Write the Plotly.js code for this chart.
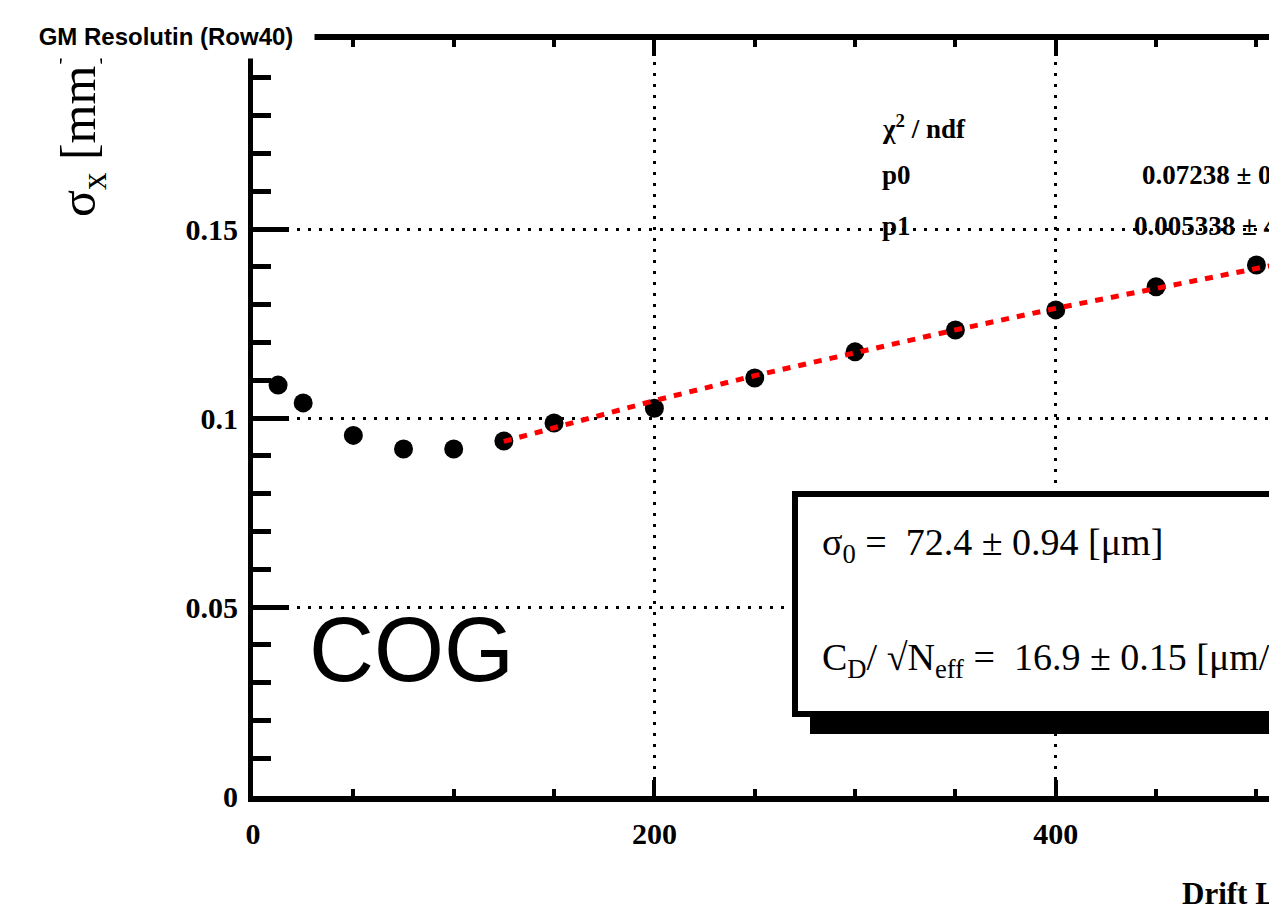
<!DOCTYPE html>
<html>
<head>
<meta charset="utf-8">
<script src="https://cdn.plot.ly/plotly-3.0.1.min.js"></script>
<style>
html, body { margin: 0; padding: 0; overflow: hidden; background: #fff; }
#chart { width: 1420px; height: 917px; }
</style>
</head>
<body>
<div id="chart"></div>
<script>
// ---- data ----
const driftLength = [12.5, 25, 50, 75, 100, 125, 150, 200, 250, 300, 350, 400, 450, 500];
const sigmaX = [0.1087, 0.1040, 0.0954, 0.0918, 0.0918, 0.0939, 0.0987, 0.1026, 0.1106, 0.1175, 0.1233, 0.1286, 0.1347, 0.1405];
const fitX = [125, 150, 200, 250, 300, 350, 400, 450, 500, 510];
const fitY = [0.0938, 0.0975, 0.1046, 0.1112, 0.1174, 0.1233, 0.1290, 0.1344, 0.1396, 0.1406];
const yTickVals = [0, 0.05, 0.1, 0.15];
const yTickText = ['0', '0.05', '0.1', '0.15'];
const xTickVals = [0, 200, 400];
const xTickText = ['0', '200', '400'];
const statNames = ['\u03c7<sup>2</sup> / ndf', 'p0', 'p1'];
const statValues = ['', '0.07238 \u00b1 0.00094', '0.005338 \u00b1 4.7e-05'];

// ---- layout geometry (pixels) ----
const L = 253, T = 40, W = 1420, H = 917;
const XMAX = 580, YMAX = 0.2;
const PW = 1164, PH = 756;
const R = W - L - PW, B = H - T - PH;
const px = v => (v - L) / PW;          // pixel x -> paper
const py = v => (T + PH - v) / PH;     // pixel y -> paper

const serifB = {family: 'Liberation Serif, Times New Roman, serif', color: '#000', weight: 'bold'};
const serif = {family: 'Liberation Serif, Times New Roman, serif', color: '#000'};

const traces = [
  {
    x: driftLength, y: sigmaX, type: 'scatter', mode: 'markers',
    marker: {symbol: 'circle', size: 19, color: '#000', line: {width: 0}},
    cliponaxis: false, showlegend: false, hoverinfo: 'x+y'
  },
  {
    x: fitX, y: fitY, type: 'scatter', mode: 'lines',
    line: {color: '#ff0000', width: 5, dash: '8px,8px'},
    showlegend: false
  }
];

const annotations = [];
// y axis title
annotations.push({xref: 'paper', yref: 'paper', x: px(82), y: py(133), xanchor: 'center', yanchor: 'middle',
  text: '\u03c3<sub>x</sub> [mm]', textangle: -90, showarrow: false, font: Object.assign({size: 50}, serif)});
// x axis title
annotations.push({xref: 'paper', yref: 'paper', x: px(1180), y: py(893), xanchor: 'left', yanchor: 'middle',
  text: 'Drift Length [mm]', showarrow: false, font: Object.assign({size: 31}, serifB)});
// stats
const statY = [127, 175, 226];
statNames.forEach((s, i) => {
  annotations.push({xref: 'paper', yref: 'paper', x: px(880), y: py(statY[i]), xanchor: 'left', yanchor: 'middle',
    text: s, showarrow: false, font: Object.assign({size: 27}, serifB)});
});
const statValX = [1140, 1140, 1132];
statValues.forEach((s, i) => {
  if (!s) return;
  annotations.push({xref: 'paper', yref: 'paper', x: px(statValX[i]), y: py(statY[i]), xanchor: 'left', yanchor: 'middle',
    text: s, showarrow: false, font: Object.assign({size: 27}, serifB)});
});
// text box lines
annotations.push({xref: 'paper', yref: 'paper', x: px(820), y: py(545), xanchor: 'left', yanchor: 'middle',
  text: '\u03c3<sub>0</sub> =  72.4 \u00b1 0.94 [\u03bcm]', showarrow: false, font: Object.assign({size: 38}, serif)});
annotations.push({xref: 'paper', yref: 'paper', x: px(820), y: py(660), xanchor: 'left', yanchor: 'middle',
  text: 'C<sub>D</sub>/ \u221aN<sub>eff</sub> =  16.9 \u00b1 0.15 [\u03bcm/ \u221acm]', showarrow: false, font: Object.assign({size: 38}, serif)});
// COG label
annotations.push({xref: 'paper', yref: 'paper', x: px(411), y: py(650), xanchor: 'center', yanchor: 'middle',
  text: 'COG', showarrow: false, font: {family: 'Liberation Sans, Arial, sans-serif', size: 90, color: '#000'}});
// plot title box (drawn last, white fill covers frame corner)
annotations.push({xref: 'paper', yref: 'paper', x: px(166), y: py(36), xanchor: 'center', yanchor: 'middle',
  text: 'GM Resolutin (Row40)', showarrow: false, bgcolor: '#fff', width: 296, height: 44, borderpad: 0,
  font: {family: 'Liberation Sans, Arial, sans-serif', size: 24, color: '#000', weight: 'bold'}});

const shapes = [
  // shadow of text box
  {type: 'rect', xref: 'paper', yref: 'paper', x0: px(810), x1: px(1500), y0: py(714), y1: py(734),
   fillcolor: '#000', line: {width: 0}, layer: 'above'},
  // text box
  {type: 'rect', xref: 'paper', yref: 'paper', x0: px(795), x1: px(1500), y0: py(494), y1: py(714),
   fillcolor: '#fff', line: {color: '#000', width: 6}, layer: 'above'}
];

const layout = {
  width: W, height: H,
  margin: {l: L, r: R, t: T, b: B, pad: 0},
  paper_bgcolor: '#fff', plot_bgcolor: '#fff',
  showlegend: false,
  xaxis: {
    range: [0, XMAX], autorange: false,
    tickmode: 'array', tickvals: xTickVals, ticktext: xTickText,
    ticks: 'inside', ticklen: 16, tickwidth: 4, tickcolor: '#000',
    showline: true, linewidth: 6, linecolor: '#000', mirror: 'ticks',
    showgrid: true, gridcolor: '#000', gridwidth: 3, griddash: '3px,8px',
    zeroline: false,
    tickfont: Object.assign({size: 30}, serifB),
    ticklabelstandoff: 6,
    minor: {dtick: 50, tick0: 0, ticks: 'inside', ticklen: 7, tickwidth: 4, tickcolor: '#000', showgrid: false}
  },
  yaxis: {
    range: [0, YMAX], autorange: false,
    tickmode: 'array', tickvals: yTickVals, ticktext: yTickText,
    ticks: 'inside', ticklen: 36, tickwidth: 5, tickcolor: '#000',
    showline: true, linewidth: 5, linecolor: '#000', mirror: 'ticks',
    showgrid: true, gridcolor: '#000', gridwidth: 3, griddash: '3px,8px',
    zeroline: false,
    tickfont: Object.assign({size: 30}, serifB),
    ticklabelstandoff: 4,
    minor: {dtick: 0.01, tick0: 0, ticks: 'inside', ticklen: 18, tickwidth: 5, tickcolor: '#000', showgrid: false}
  },
  annotations: annotations,
  shapes: shapes
};

Plotly.newPlot('chart', traces, layout, {displayModeBar: false, staticPlot: true});
</script>
</body>
</html>
